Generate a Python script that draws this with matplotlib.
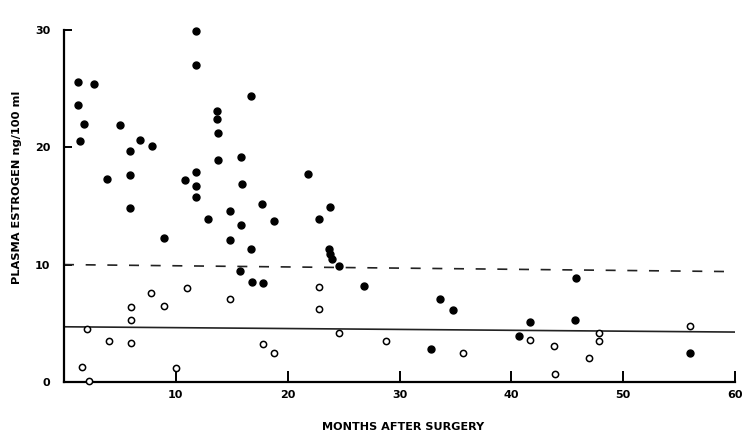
import matplotlib
matplotlib.use("Agg")
import matplotlib.pyplot as plt

# filled circles (above normal range)
filled_months = [1.25, 2.7, 1.25, 1.8, 1.4, 5.0, 5.9, 6.8, 7.9, 3.8, 5.9, 5.9, 8.9,
                 10.8, 11.8, 11.8, 11.8, 11.8, 11.8, 12.85, 13.7, 13.7, 13.75, 13.75,
                 14.85, 14.8, 15.8, 15.9, 15.8, 15.7, 16.75, 16.7, 16.8, 17.7, 17.8,
                 18.8, 21.8, 22.8, 23.8, 23.7, 23.75, 24.0, 24.6, 26.8, 32.8, 33.6,
                 34.8, 40.7, 41.7, 45.7, 45.8, 56.0]
filled_estrogen = [25.6, 25.4, 23.6, 22.0, 20.5, 21.9, 19.7, 20.6, 20.1, 17.3, 17.6, 14.8, 12.3,
                   17.2, 29.9, 27.0, 17.9, 16.7, 15.8, 13.85, 23.1, 22.4, 21.2, 18.9,
                   14.6, 12.1, 19.2, 16.9, 13.4, 9.45, 24.4, 11.3, 8.55, 15.2, 8.4,
                   13.7, 17.7, 13.85, 14.9, 11.3, 10.9, 10.5, 9.85, 8.2, 2.8, 7.1,
                   6.1, 3.9, 5.1, 5.3, 8.9, 2.5]

# open circles
open_months = [2.05, 1.6, 2.2, 4.0, 5.95, 6.0, 6.0, 7.8, 8.9, 10.0, 11.0, 14.8, 17.8,
               18.8, 22.8, 22.8, 24.6, 28.8, 35.7, 41.7, 43.8, 43.9, 46.9, 47.8, 47.8, 56.0]
open_estrogen = [4.5, 1.3, 0.05, 3.5, 3.35, 5.25, 6.4, 7.6, 6.5, 1.2, 8.0, 7.1, 3.2,
                 2.5, 8.1, 6.2, 4.2, 3.5, 2.5, 3.6, 3.1, 0.7, 2.0, 4.2, 3.45, 4.8]

# reference levels (start/end, scan is slightly tilted)
line_months = [0, 60]
dashed_level = [10.0, 9.4]
solid_level = [4.7, 4.25]

x_ticks = [10, 20, 30, 40, 50, 60]
y_ticks = [0, 10, 20, 30]

fig = plt.figure(figsize=(7.54, 4.34), dpi=100)
ax = fig.add_axes([0.0849, 0.12, 0.89, 0.811])

ax.plot(line_months, dashed_level, color="#222222", lw=1.2, dashes=(6, 7))
ax.plot(line_months, solid_level, color="#222222", lw=1.2)

ax.plot(filled_months, filled_estrogen, "o", color="black", markersize=5, clip_on=False, zorder=3)
ax.plot(open_months, open_estrogen, "o", mfc="white", mec="black", mew=1.1,
        markersize=4.5, clip_on=False, zorder=3)

ax.set_xlim(0, 60)
ax.set_ylim(0, 30)
for side in ["top", "right"]:
    ax.spines[side].set_visible(False)
ax.spines["left"].set_linewidth(1.6)
ax.spines["bottom"].set_linewidth(1.6)

ax.set_xticks(x_ticks)
ax.set_yticks(y_ticks)
ax.tick_params(axis="x", direction="in", length=8, width=1.4, pad=6)
ax.tick_params(axis="y", direction="in", length=6, width=1.4, pad=10)
for lab in ax.get_xticklabels() + ax.get_yticklabels():
    lab.set_fontweight("bold")
    lab.set_fontsize(8)

ax.set_xlabel("MONTHS AFTER SURGERY", fontsize=8.1, fontweight="bold")
ax.set_ylabel("PLASMA ESTROGEN ng/100 ml", fontsize=8.2, fontweight="bold")
ax.xaxis.set_label_coords(0.505, -0.114)
ax.yaxis.set_label_coords(-0.0626, 0.554)

fig.savefig("out.png", dpi=100)
